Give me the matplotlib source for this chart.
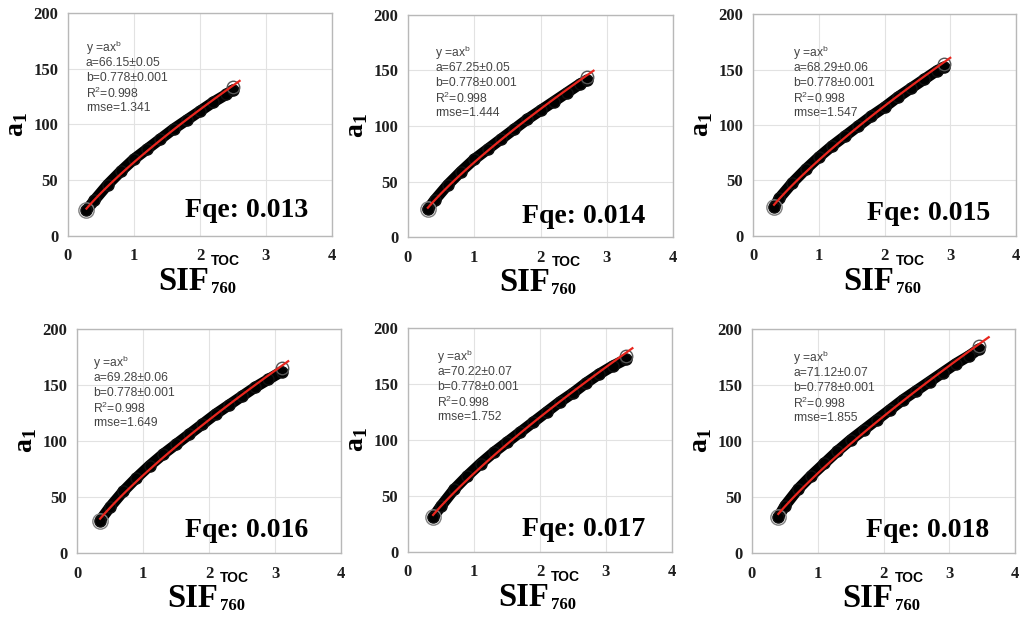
import matplotlib.pyplot as plt

plt.rcParams['mathtext.fontset'] = 'custom'
plt.rcParams['mathtext.rm'] = 'Liberation Sans'
plt.rcParams['mathtext.bf'] = 'Liberation Serif:bold'

W, H = 1022, 625

# data -------------------------------------------------------------------
fqe = ['0.013', '0.014', '0.015', '0.016', '0.017', '0.018']
coef_a = [66.15, 67.25, 68.29, 69.28, 70.22, 71.12]
coef_a_err = ['0.05', '0.05', '0.06', '0.06', '0.07', '0.07']
coef_b = 0.778
rmse = ['1.341', '1.444', '1.547', '1.649', '1.752', '1.855']

# scatter band (centre of the black cloud)
sif_1 = [0.28, 0.4, 0.6, 0.8, 1.0, 1.2, 1.4, 1.6, 1.8, 2.0, 2.2, 2.4, 2.5]
a1_1 = [23, 32, 46, 58, 69, 78, 87, 96, 104, 112, 120, 127, 131]
sif_2 = [0.3, 0.4, 0.6, 0.8, 1.0, 1.2, 1.4, 1.6, 1.8, 2.0, 2.2, 2.4, 2.6, 2.7]
a1_2 = [25, 33, 47, 59, 70, 79, 88, 97, 106, 114, 122, 130, 138, 141]
sif_3 = [0.32, 0.4, 0.6, 0.8, 1.0, 1.2, 1.4, 1.6, 1.8, 2.0, 2.2, 2.4, 2.6, 2.8, 2.9]
a1_3 = [26, 34, 48, 60, 71, 81, 90, 99, 108, 116, 125, 133, 141, 149, 152]
sif_4 = [0.35, 0.5, 0.7, 0.9, 1.1, 1.3, 1.5, 1.7, 1.9, 2.1, 2.3, 2.5, 2.7, 2.9, 3.1]
a1_4 = [29, 41, 55, 67, 78, 88, 97, 106, 115, 124, 132, 140, 148, 155, 162]
sif_5 = [0.38, 0.5, 0.7, 0.9, 1.1, 1.3, 1.5, 1.7, 1.9, 2.1, 2.3, 2.5, 2.7, 2.9, 3.1, 3.3]
a1_5 = [31, 41, 56, 68, 79, 89, 98, 107, 116, 125, 134, 142, 151, 159, 166, 172]
sif_6 = [0.4, 0.5, 0.7, 0.9, 1.1, 1.3, 1.5, 1.7, 1.9, 2.1, 2.3, 2.5, 2.7, 2.9, 3.1, 3.3, 3.45]
a1_6 = [32, 42, 57, 69, 80, 91, 101, 110, 119, 128, 137, 145, 153, 161, 169, 176, 182]

# x range of the red fit line y = a*x^b
fit_start = [0.28, 0.3, 0.32, 0.35, 0.38, 0.4]
fit_end = [2.6, 2.8, 3.0, 3.2, 3.4, 3.6]

sif_all = [sif_1, sif_2, sif_3, sif_4, sif_5, sif_6]
a1_all = [a1_1, a1_2, a1_3, a1_4, a1_5, a1_6]

# panel boxes in pixels: left, top, right, bottom
boxes = [(68, 13, 332, 236), (408, 15, 673, 237), (753, 14, 1016, 236),
         (77, 329, 341, 553), (408, 328, 672, 552), (752, 329, 1015, 553)]
note_off = [(18, 35), (27, 38), (40, 39), (16, 34), (29, 29), (41, 29)]
fqe_off = [(117, 19), (114, 14), (114, 16), (108, 16), (114, 16), (114, 16)]

fig = plt.figure(figsize=(W / 100, H / 100), dpi=100)

def ftext(x, y, s, **kw):
    return fig.text(x / W, 1 - y / H, s, **kw)

for i in range(6):
    L, T, R, B = boxes[i]
    ax = fig.add_axes([L / W, 1 - B / H, (R - L) / W, (B - T) / H])
    ax.set_xlim(0, 4)
    ax.set_ylim(0, 200)
    ax.set_xticks([0, 1, 2, 3, 4])
    ax.set_yticks([0, 50, 100, 150, 200])
    ax.grid(color='#e2e2e2', lw=0.8)
    ax.set_axisbelow(True)
    for sp in ax.spines.values():
        sp.set_color('#b8b8b8')
        sp.set_linewidth(1.0)
    ax.tick_params(length=0, labelsize=12, colors='#1e1e1e', pad=7)
    for lab in ax.get_xticklabels() + ax.get_yticklabels():
        lab.set_fontfamily('Liberation Serif')
        lab.set_fontweight('bold')
    ax.tick_params(axis='x', pad=9)

    # scatter cloud
    ax.plot(sif_all[i], a1_all[i], color='black', lw=8, solid_capstyle='round',
            solid_joinstyle='round', marker='o', ms=8, mfc='black', mec='#111111',
            mew=1.0, zorder=3)
    ax.plot(sif_all[i][0], a1_all[i][0], 'o', ms=11, mfc='none', mec='#808080',
            mew=1.0, zorder=3)
    ax.plot(sif_all[i][-1], a1_all[i][-1] + 3, 'o', ms=9, mfc='none', mec='#555555',
            mew=1.0, zorder=3)
    # fit line
    xs = [fit_start[i] + (fit_end[i] - fit_start[i]) * k / 60 for k in range(61)]
    ys = [coef_a[i] * x ** coef_b for x in xs]
    ax.plot(xs, ys, color='#e8261e', lw=1.6, zorder=4)

    # fit annotation
    dx, dy = note_off[i]
    notes = [r'y =ax$^{\mathrm{b}}$',
             'a=%.2f\u00b1%s' % (coef_a[i], coef_a_err[i]),
             'b=%.3f\u00b10.001' % coef_b,
             r'R$^{\mathrm{2}}$=0.998',
             'rmse=' + rmse[i]]
    for k, s in enumerate(notes):
        ftext(L + dx, T + dy + 15 * k, s, family='Liberation Sans', size=8.7,
              color='#454545', va='center', ha='left')

    # Fqe label
    fx, fy = fqe_off[i]
    ftext(L + fx, B - fy, 'Fqe: ' + fqe[i], family='Liberation Serif',
          weight='bold', size=20, color='black', va='baseline', ha='left')

    # axis labels
    cx = (L + R) / 2
    ftext(cx + 9, B + 54, 'SIF', family='Liberation Serif', weight='bold',
          size=23.5, ha='right', va='baseline')
    ftext(cx + 11, B + 29, 'TOC', family='Liberation Sans', weight='bold',
          size=10, ha='left', va='baseline')
    ftext(cx + 11, B + 57, '760', family='Liberation Serif', weight='bold',
          size=12, ha='left', va='baseline')
    ftext(L - 52, (T + B) / 2, r'$\mathbf{a}_{\mathbf{1}}$', size=20,
          rotation=90, ha='center', va='center')

fig.savefig('out.png', dpi=100)
